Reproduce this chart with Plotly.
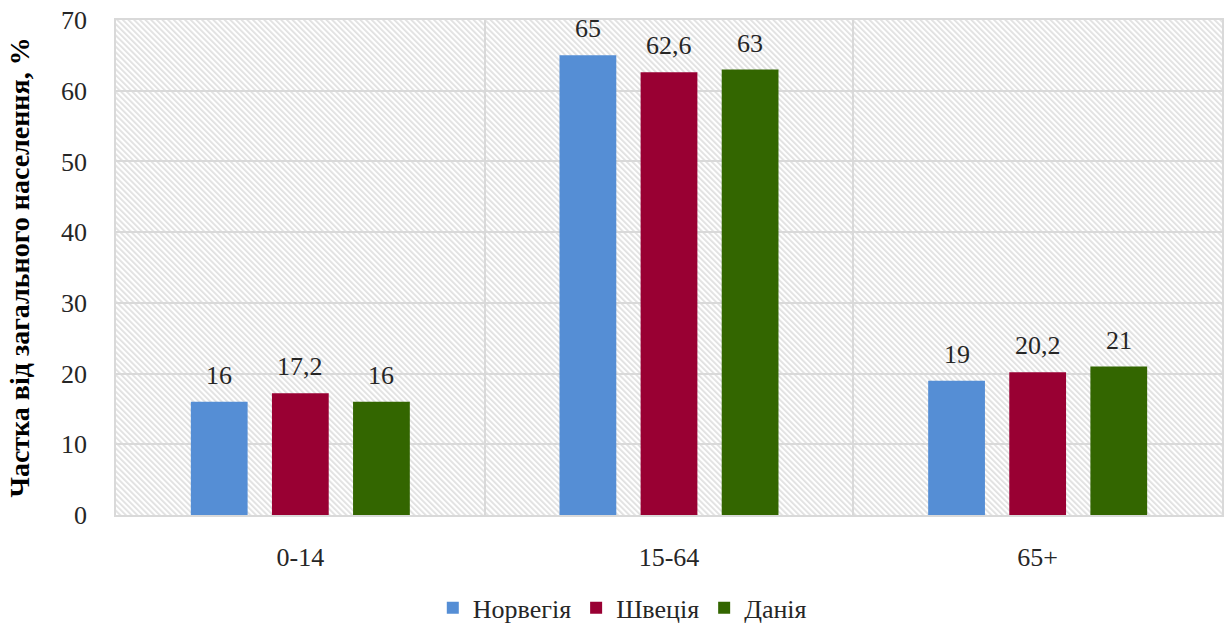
import base64
import plotly.graph_objects as go

categories = ["0-14", "15-64", "65+"]
series_names = ["Норвегія", "Швеція", "Данія"]
norway = [16, 65, 19]
sweden = [17.2, 62.6, 20.2]
denmark = [16, 63, 21]
colors = ["#558ED5", "#990033", "#336600"]
y_ticks = [0, 10, 20, 30, 40, 50, 60, 70]

FONT = "'Liberation Serif', 'Times New Roman', 'DejaVu Serif', serif"

W, H = 1225, 624
ML, MR, MT, MB = 116, 3, 20, 109
PW, PH = W - ML - MR, H - MT - MB
BARGAP, BARGROUPGAP = 0.34, 0.3

svg = f'''<svg xmlns="http://www.w3.org/2000/svg" width="{PW}" height="{PH}">
<defs><pattern id="p" patternUnits="userSpaceOnUse" width="4" height="4" patternTransform="rotate(-45)">
<rect x="0" y="0" width="1.8" height="4" fill="#e0e0e0"/></pattern></defs>
<rect width="{PW}" height="{PH}" fill="white"/>
<rect width="{PW}" height="{PH}" fill="url(#p)"/></svg>'''
src = "data:image/svg+xml;base64," + base64.b64encode(svg.encode()).decode()

fig = go.Figure()
all_series = [norway, sweden, denmark]
n = len(all_series)
slot = (1 - BARGAP) / n
for k, (name, vals, col) in enumerate(zip(series_names, all_series, colors)):
    fig.add_trace(go.Bar(
        x=categories, y=vals, name=name,
        marker=dict(color=col, line=dict(width=0)),
    ))
    for i, v in enumerate(vals):
        fig.add_annotation(
            x=i + (k - (n - 1) / 2) * slot, y=v, xref="x", yref="y",
            text=str(v).replace(".", ","), showarrow=False,
            yanchor="bottom", yshift=10,
            font=dict(family=FONT, size=26, color="#262626"),
        )

fig.add_layout_image(dict(source=src, xref="paper", yref="paper", x=0, y=1,
                          sizex=1, sizey=1, sizing="stretch", layer="below"))

fig.update_layout(
    width=W, height=H,
    margin=dict(l=ML, r=MR, t=MT, b=MB),
    barmode="group", bargap=BARGAP, bargroupgap=BARGROUPGAP,
    plot_bgcolor="rgba(0,0,0,0)", paper_bgcolor="white",
    font=dict(family=FONT, size=26, color="#262626"),
    showlegend=True,
    legend=dict(orientation="h", xref="container", yref="container",
                x=0.508, xanchor="center", y=0.026, yanchor="middle",
                font=dict(family=FONT, size=26), itemwidth=30, tracegroupgap=0),
    yaxis=dict(range=[0, 70.001], tickvals=y_ticks, showgrid=True, gridcolor="#d9d9d9",
               gridwidth=1.5, zeroline=False, showline=True, mirror=True,
               linecolor="#d9d9d9", linewidth=1.5, ticks="", ticklabelstandoff=22,
               ticklabeloverflow="allow", automargin="left",
               tickfont=dict(family=FONT, size=26),
               title=dict(text="<b>Частка від загального населення, %</b>",
                          font=dict(family=FONT, size=28, color="#000000"), standoff=23)),
    xaxis=dict(tickson="boundaries", showgrid=True, gridcolor="#d9d9d9", gridwidth=1.5,
               showline=True, mirror=True, linecolor="#d9d9d9", linewidth=1.5,
               ticks="", tickfont=dict(family=FONT, size=26), ticklabelstandoff=18),
)

fig.write_html("out.html", config={"displayModeBar": False},
               post_script="document.body.style.margin='0';document.body.style.overflow='hidden';")
